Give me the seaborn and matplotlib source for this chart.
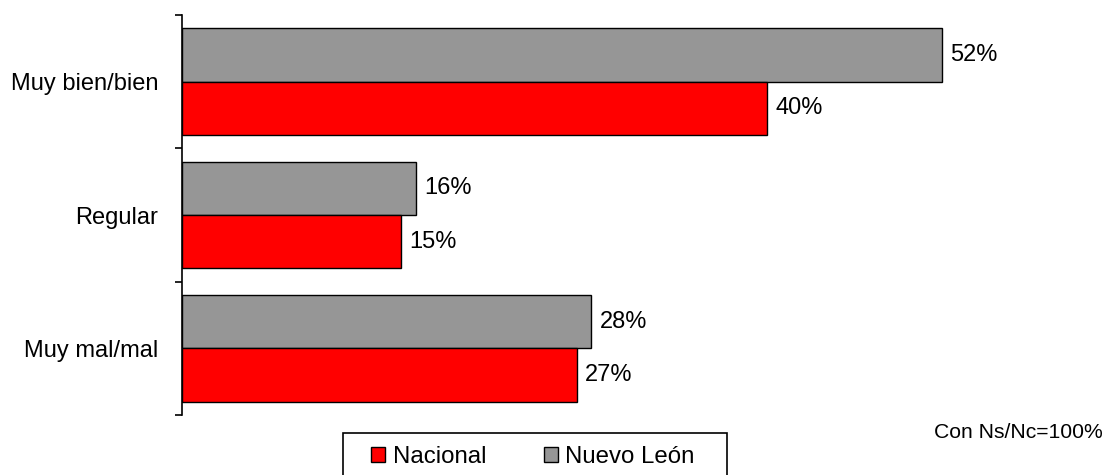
import numpy as np
import pandas as pd
import seaborn as sns
import matplotlib.pyplot as plt
from matplotlib.patches import Patch, Rectangle

categorias = ["Muy bien/bien", "Regular", "Muy mal/mal"]
nuevo_leon = [52, 16, 28]
nacional = [40, 15, 27]
series = ["Nuevo León", "Nacional"]
colores = {"Nuevo León": "#969696", "Nacional": "#FF0000"}

df = pd.DataFrame({
    "categoria": categorias * 2,
    "serie": ["Nuevo León"] * 3 + ["Nacional"] * 3,
    "valor": nuevo_leon + nacional,
})

sns.set_style("white")
plt.rcParams["font.family"] = ["Liberation Sans", "DejaVu Sans"]
plt.rcParams["text.color"] = "black"
plt.rcParams["ytick.color"] = "black"
plt.rcParams["ytick.labelcolor"] = "black"

fig = plt.figure(figsize=(11.07, 4.75), dpi=100)
ax = fig.add_axes([182 / 1107, 1 - 415 / 475, 877 / 1107, 400 / 475])

sns.barplot(data=df, x="valor", y="categoria", hue="serie", order=categorias,
            hue_order=series, palette=colores, orient="h", width=0.8, saturation=1,
            edgecolor="black", linewidth=1, ax=ax, legend=False)

for c in ax.containers:
    ax.bar_label(c, fmt="{:.0f}%", padding=6, fontsize=17, color="black")

ax.set_xlim(0, 60)
ax.set_ylim(2.5, -0.5)
ax.set_xlabel("")
ax.set_ylabel("")
ax.set_xticks([])
ax.tick_params(axis="y", which="major", length=0, pad=17, labelsize=17)
ax.set_yticks([-0.5, 0.5, 1.5, 2.5], minor=True)
ax.tick_params(axis="y", which="minor", length=5, width=1.2, left=True, color="black")
for s in ["top", "right", "bottom"]:
    ax.spines[s].set_visible(False)
ax.spines["left"].set_color("black")
ax.spines["left"].set_linewidth(1.2)

# legend box drawn separately, partly cut by the bottom edge
fig.patches.append(Rectangle((343 / 1107, -0.05), 384 / 1107, 0.05 + 1 - 433 / 475,
                             transform=fig.transFigure, facecolor="white",
                             edgecolor="black", linewidth=1.2, zorder=1))
handles = [Patch(facecolor=colores["Nacional"], edgecolor="black", label="Nacional"),
           Patch(facecolor=colores["Nuevo León"], edgecolor="black", label="Nuevo León")]
leg = fig.legend(handles=handles, loc="center left", bbox_to_anchor=(371 / 1107, 1 - 457 / 475),
                 ncol=2, frameon=False, fontsize=17.3,
                 handlelength=0.6, handleheight=0.6, handletextpad=0.3, columnspacing=2.4,
                 borderpad=0, borderaxespad=0)
leg.set_zorder(2)

fig.text(1103 / 1107, 1 - 432 / 475, "Con Ns/Nc=100%", ha="right", va="center", fontsize=15.2)

fig.savefig("out.png", dpi=100)
